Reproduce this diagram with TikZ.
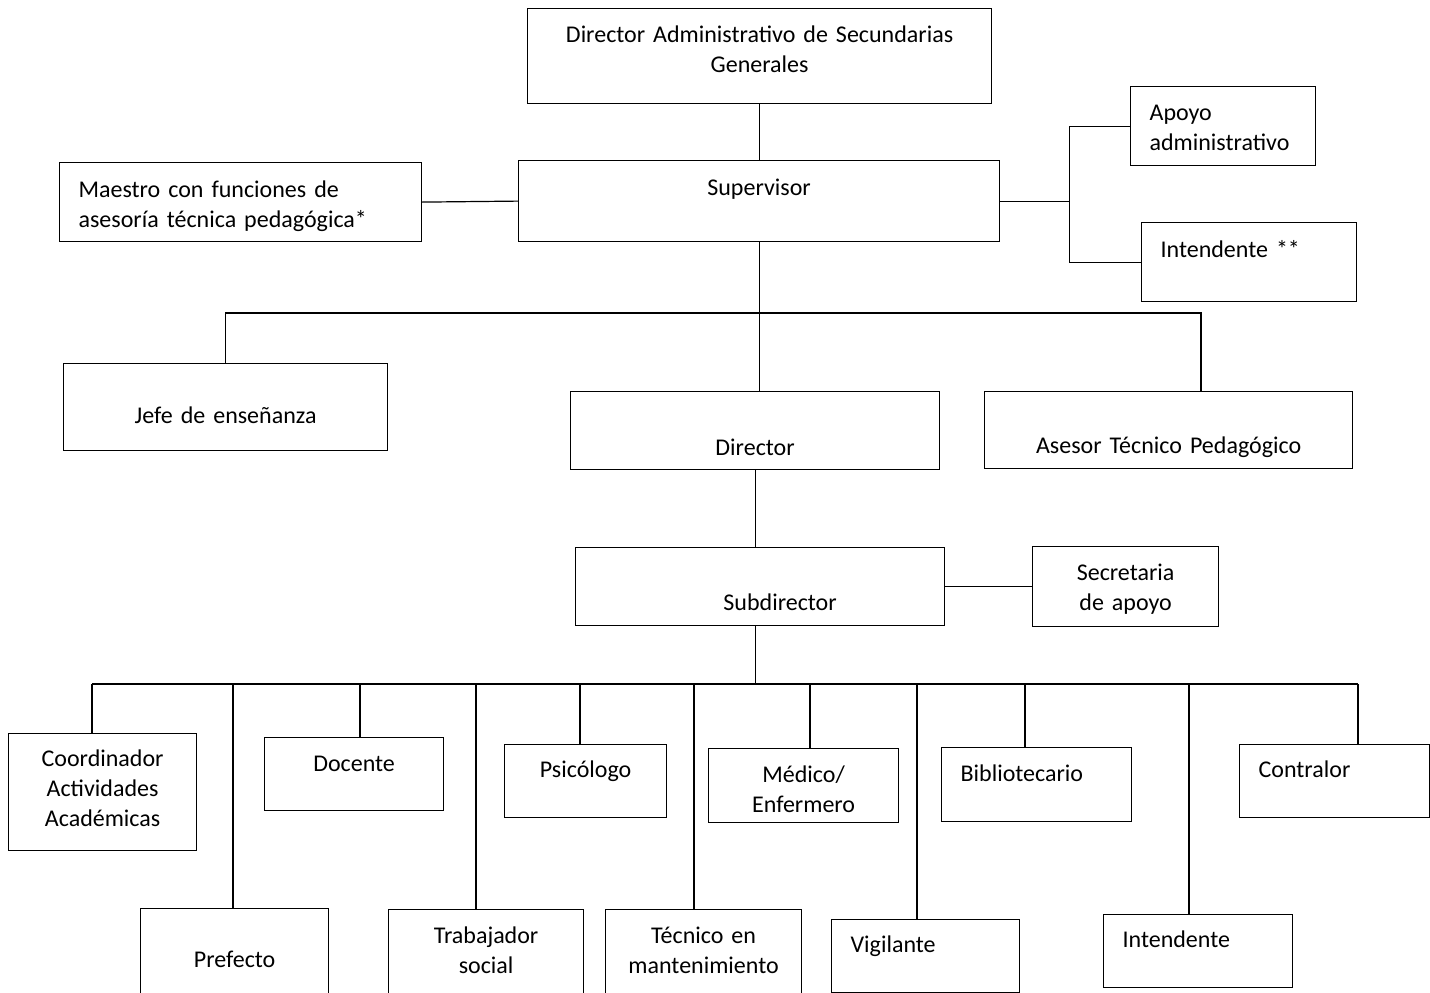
\documentclass[tikz,border=0pt]{standalone}
\usepackage{fontspec}
\setmainfont{Carlito}
\usepackage{tikz}

\begin{document}
\begin{tikzpicture}[x=1pt,y=-1pt,line width=1.2pt]
  \tikzstyle{box}=[draw, inner sep=0pt, anchor=north west, font=\fontsize{24}{30}\selectfont]
  \tikzstyle{cbox}=[box, align=center]
  \tikzstyle{lbox}=[box, align=left, inner xsep=19pt]
  \useasboundingbox (0,0) rectangle (1430,993);
  \clip (0,0) rectangle (1430,993);

  \node[cbox, text width=464pt, text height=34pt, text depth=61pt] (dag) at (527,8) {Director Administrativo de Secundarias\\Generales};
  \node[cbox, text width=481pt, text height=35pt, text depth=46pt] (sup) at (518,160) {Supervisor};
  \node[lbox, text width=324pt, text height=35pt, text depth=44pt] (mae) at (59,162) {Maestro con funciones de\\asesoría técnica pedagógica*};
  \node[lbox, text width=147pt, text height=34pt, text depth=45pt] (apo) at (1130,86) {Apoyo\\administrativo};
  \node[lbox, text width=177pt, text height=35pt, text depth=44pt] (int1) at (1141,222) {Intendente **};

  \node[cbox, text width=324pt, text height=60pt, text depth=27pt] (jefe) at (63,363) {Jefe de enseñanza};
  \node[cbox, text width=369pt, text height=64pt, text depth=14pt] (dir) at (570,391) {Director};
  \node[cbox, text width=368pt, text height=62pt, text depth=15pt] (ase) at (984,391) {Asesor Técnico Pedagógico};
  \node[cbox, text width=369pt, text height=63pt, text depth=15pt] (sub) at (575,547) {\hspace*{40pt}Subdirector};
  \node[cbox, text width=186pt, text height=34pt, text depth=46pt] (sec) at (1032,546) {Secretaria\\de apoyo};

  \node[cbox, text width=188pt, text height=33pt, text depth=84pt] (coo) at (8,733) {Coordinador\\Actividades\\Académicas};
  \node[cbox, text width=179pt, text height=34pt, text depth=39pt] (doc) at (264,737) {Docente};
  \node[cbox, text width=162pt, text height=33pt, text depth=40pt] (psi) at (504,744) {Psicólogo};
  \node[cbox, text width=190pt, text height=34pt, text depth=40pt] (med) at (708,748) {Médico/\\Enfermero};
  \node[lbox, text width=152pt, text height=34pt, text depth=40pt] (bib) at (941,747) {Bibliotecario};
  \node[lbox, text width=152pt, text height=33pt, text depth=40pt] (con) at (1239,744) {Contralor};

  \node[cbox, text width=188pt, text height=59pt, text depth=43pt] (pre) at (140,908) {Prefecto};
  \node[cbox, text width=195pt, text height=34pt, text depth=67pt] (tra) at (388,909) {Trabajador\\social};
  \node[cbox, text width=196pt, text height=34pt, text depth=67pt] (tec) at (605,909) {Técnico en\\mantenimiento};
  \node[lbox, text width=150pt, text height=33pt, text depth=40pt] (vig) at (831,919) {Vigilante};
  \node[lbox, text width=151pt, text height=33pt, text depth=40pt] (int2) at (1103,914) {Intendente};

  \draw (dag.south) -- (dag.south |- sup.north);
  \draw (mae.east) -- (sup.west);
  \coordinate (supR) at ([xshift=69pt]sup.east);
  \draw (sup.east) -- (supR);
  \draw (apo.west) -| (supR) |- (int1.west);

  \coordinate (busA) at (225,313);
  \coordinate (busB) at (1201,313);
  \draw (sup.south) -- (sup.south |- dir.north);
  \draw (jefe.north) -- (jefe.north |- busA) -- (busB) -- (busB |- ase.north);

  \draw (dir.south) -- (dir.south |- sub.north);
  \draw (sub.east) -- (sec.west);

  \coordinate (busL) at (92,684);
  \coordinate (busR) at (1358,684);
  \draw (dir.south |- sub.south) -- (dir.south |- busL);
  \draw (busL) -- (busR);
  \foreach \n/\x in {coo/92,pre/233,doc/360,tra/476,psi/580,tec/694,med/810,vig/917,bib/1025,int2/1189,con/1358}
    \draw (\x,684) -- (\x,684 |- \n.north);
\end{tikzpicture}
\end{document}
